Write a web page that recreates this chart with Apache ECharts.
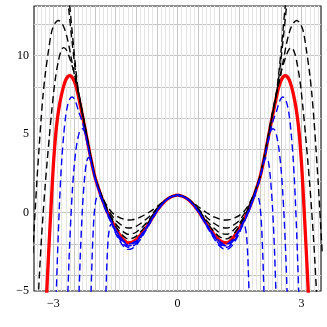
<!DOCTYPE html>
<html lang="en">
<head>
<meta charset="utf-8">
<title>Approximations</title>
<script src="https://cdn.jsdelivr.net/npm/echarts@6/dist/echarts.min.js"></script>
<style>
  html, body, #main { width: 100%; height: 100%; margin: 0; background: #fff; }
</style>
</head>
<body>
<div id="main"></div>
<script>
// axis range and tick positions
const xRange = [-3.47, 3.47];
const yRange = [-5, 13.15];
const xLabelTicks = [-3, 0, 3];
const yLabelTicks = [-5, 0, 5, 10];
const xMajorGrid = [-3, -2.5, -2, -1.5, -1, -0.5, 0, 0.5, 1, 1.5, 2, 2.5, 3];
const yMajorGrid = [-4, -2, 0, 2, 4, 6, 8, 10, 12];
const xMinorGrid = [];
for (let i = -34; i <= 34; i++) xMinorGrid.push(i / 10);

// the function (thick red)
const redCurve = [
  [-3.2,-7.2],[-3.15,-4.4],[-3.1,-1.75],[-3.05,0.75],[-3.0,3.1],[-2.95,4.85],[-2.9,6.05],[-2.85,6.9],
  [-2.8,7.55],[-2.75,8.08],[-2.7,8.45],[-2.65,8.66],[-2.6,8.72],[-2.55,8.62],[-2.5,8.38],[-2.45,8.0],
  [-2.4,7.45],[-2.3,6.2],[-2.2,4.85],[-2.1,3.5],[-2.0,2.3],[-1.9,1.45],[-1.8,0.7],[-1.7,0.05],
  [-1.6,-0.5],[-1.5,-1.0],[-1.4,-1.42],[-1.3,-1.75],[-1.2,-1.93],[-1.1,-1.9],[-1.0,-1.74],[-0.9,-1.45],
  [-0.8,-1.1],[-0.7,-0.72],[-0.6,-0.3],[-0.5,0.1],[-0.4,0.45],[-0.3,0.73],[-0.2,0.93],[-0.1,1.05],[0,1.1],
  [0.1,1.05],[0.2,0.93],[0.3,0.73],[0.4,0.45],[0.5,0.1],[0.6,-0.3],[0.7,-0.72],[0.8,-1.1],
  [0.9,-1.45],[1.0,-1.74],[1.1,-1.9],[1.2,-1.93],[1.3,-1.75],[1.4,-1.42],[1.5,-1.0],[1.6,-0.5],
  [1.7,0.05],[1.8,0.7],[1.9,1.45],[2.0,2.3],[2.1,3.5],[2.2,4.85],[2.3,6.2],[2.4,7.45],
  [2.45,8.0],[2.5,8.38],[2.55,8.62],[2.6,8.72],[2.65,8.66],[2.7,8.45],[2.75,8.08],[2.8,7.55],
  [2.85,6.9],[2.9,6.05],[2.95,4.85],[3.0,3.1],[3.05,0.75],[3.1,-1.75],[3.15,-4.4],[3.2,-7.2]
];

// black dashed approximations (above the function near the minima)
const blackA = [
  [-3.5,-2.6],[-3.44,0.2],[-3.4,2.0],[-3.35,4.0],[-3.3,5.9],[-3.25,7.5],[-3.2,8.75],[-3.12,10.3],
  [-3.04,11.55],[-2.96,12.06],[-2.88,12.23],[-2.8,12.05],[-2.74,11.75],[-2.68,11.25],[-2.62,10.55],
  [-2.56,9.7],[-2.48,8.6],[-2.4,7.6],[-2.3,6.3],[-2.2,4.9],[-2.1,3.52],[-2.0,2.31],[-1.9,1.47],
  [-1.8,0.73],[-1.7,0.11],[-1.6,-0.41],[-1.5,-0.86],[-1.4,-1.23],[-1.3,-1.52],[-1.2,-1.68],[-1.1,-1.65],
  [-1.0,-1.52],[-0.9,-1.26],[-0.8,-0.96],[-0.7,-0.62],[-0.6,-0.23],[-0.5,0.14],[-0.4,0.47],[-0.3,0.74],
  [-0.2,0.93],[-0.1,1.05],[0,1.1],
  [0.1,1.05],[0.2,0.93],[0.3,0.74],[0.4,0.47],[0.5,0.14],[0.6,-0.23],[0.7,-0.62],[0.8,-0.96],
  [0.9,-1.26],[1.0,-1.52],[1.1,-1.65],[1.2,-1.68],[1.3,-1.52],[1.4,-1.23],[1.5,-0.86],[1.6,-0.41],
  [1.7,0.11],[1.8,0.73],[1.9,1.47],[2.0,2.31],[2.1,3.52],[2.2,4.9],[2.3,6.3],[2.4,7.6],[2.48,8.6],
  [2.56,9.7],[2.62,10.55],[2.68,11.25],[2.74,11.75],[2.8,12.05],[2.88,12.23],[2.96,12.06],[3.04,11.55],
  [3.12,10.3],[3.2,8.75],[3.25,7.5],[3.3,5.9],[3.35,4.0],[3.4,2.0],[3.44,0.2],[3.5,-2.6]
];
const blackB = [
  [-3.4,-7],[-3.36,-5],[-3.3,-2.1],[-3.25,-0.1],[-3.2,1.7],[-3.15,3.3],[-3.1,4.8],[-3.04,6.5],
  [-2.96,8.4],[-2.88,9.65],[-2.82,10.25],[-2.76,10.5],[-2.7,10.4],[-2.64,10.07],[-2.56,9.44],
  [-2.48,8.7],[-2.4,7.7],[-2.3,6.35],[-2.2,4.95],[-2.1,3.55],[-2.0,2.32],[-1.9,1.49],[-1.8,0.77],
  [-1.7,0.18],[-1.6,-0.3],[-1.5,-0.7],[-1.4,-1.01],[-1.3,-1.25],[-1.2,-1.39],[-1.1,-1.36],[-1.0,-1.26],
  [-0.9,-1.04],[-0.8,-0.79],[-0.7,-0.5],[-0.6,-0.15],[-0.5,0.19],[-0.4,0.5],[-0.3,0.76],[-0.2,0.94],
  [-0.1,1.05],[0,1.1],
  [0.1,1.05],[0.2,0.94],[0.3,0.76],[0.4,0.5],[0.5,0.19],[0.6,-0.15],[0.7,-0.5],[0.8,-0.79],
  [0.9,-1.04],[1.0,-1.26],[1.1,-1.36],[1.2,-1.39],[1.3,-1.25],[1.4,-1.01],[1.5,-0.7],[1.6,-0.3],
  [1.7,0.18],[1.8,0.77],[1.9,1.49],[2.0,2.32],[2.1,3.55],[2.2,4.95],[2.3,6.35],[2.4,7.7],[2.48,8.7],
  [2.56,9.44],[2.64,10.07],[2.7,10.4],[2.76,10.5],[2.82,10.25],[2.88,9.65],[2.96,8.4],[3.04,6.5],
  [3.1,4.8],[3.15,3.3],[3.2,1.7],[3.25,-0.1],[3.3,-2.1],[3.36,-5],[3.4,-7]
];
const blackC = [
  [-2.66,14.6],[-2.6,13.0],[-2.55,11.6],[-2.5,10.2],[-2.45,8.9],[-2.4,7.8],[-2.3,6.4],[-2.2,5.0],
  [-2.1,3.6],[-2.0,2.35],[-1.9,1.55],[-1.8,0.9],[-1.7,0.4],[-1.6,0.05],[-1.5,-0.18],[-1.4,-0.32],
  [-1.3,-0.43],[-1.2,-0.48],[-1.1,-0.47],[-1.0,-0.4],[-0.9,-0.3],[-0.8,-0.16],[-0.7,0.0],[-0.6,0.17],
  [-0.5,0.37],[-0.4,0.58],[-0.3,0.78],[-0.2,0.95],[-0.1,1.06],[0,1.1],
  [0.1,1.06],[0.2,0.95],[0.3,0.78],[0.4,0.58],[0.5,0.37],[0.6,0.17],[0.7,0.0],[0.8,-0.16],
  [0.9,-0.3],[1.0,-0.4],[1.1,-0.47],[1.2,-0.48],[1.3,-0.43],[1.4,-0.32],[1.5,-0.18],[1.6,0.05],
  [1.7,0.4],[1.8,0.9],[1.9,1.55],[2.0,2.35],[2.1,3.6],[2.2,5.0],[2.3,6.4],[2.4,7.8],[2.45,8.9],
  [2.5,10.2],[2.55,11.6],[2.6,13.0],[2.66,14.6]
];
const blackD = [
  [-2.68,14.4],[-2.62,12.7],[-2.55,10.9],[-2.5,9.7],[-2.45,8.6],[-2.4,7.65],[-2.3,6.3],[-2.2,4.95],
  [-2.1,3.55],[-2.0,2.33],[-1.9,1.52],[-1.8,0.83],[-1.7,0.28],[-1.6,-0.14],[-1.5,-0.48],[-1.4,-0.72],
  [-1.3,-0.9],[-1.2,-0.99],[-1.1,-0.97],[-1.0,-0.88],[-0.9,-0.72],[-0.8,-0.52],[-0.7,-0.3],[-0.6,-0.04],
  [-0.5,0.25],[-0.4,0.53],[-0.3,0.77],[-0.2,0.95],[-0.1,1.06],[0,1.1],
  [0.1,1.06],[0.2,0.95],[0.3,0.77],[0.4,0.53],[0.5,0.25],[0.6,-0.04],[0.7,-0.3],[0.8,-0.52],
  [0.9,-0.72],[1.0,-0.88],[1.1,-0.97],[1.2,-0.99],[1.3,-0.9],[1.4,-0.72],[1.5,-0.48],[1.6,-0.14],
  [1.7,0.28],[1.8,0.83],[1.9,1.52],[2.0,2.33],[2.1,3.55],[2.2,4.95],[2.3,6.3],[2.4,7.65],[2.45,8.6],
  [2.5,9.7],[2.55,10.9],[2.62,12.7],[2.68,14.4]
];

// blue dashed approximations (below the function)
const blueA = [
  [-2.96,-7.5],[-2.93,-5],[-2.9,-2.6],[-2.85,0.8],[-2.8,3.3],[-2.75,5.0],[-2.7,6.2],[-2.65,6.9],
  [-2.6,7.25],[-2.55,7.35],[-2.5,7.25],[-2.45,6.95],[-2.4,6.5],[-2.3,5.75],[-2.2,4.7],[-2.1,3.42],
  [-2.0,2.27],[-1.9,1.42],[-1.8,0.67],[-1.7,0.02],[-1.6,-0.54],[-1.5,-1.05],[-1.4,-1.48],[-1.3,-1.81],
  [-1.2,-2.0],[-1.1,-1.97],[-1.0,-1.79],[-0.9,-1.49],[-0.8,-1.13],[-0.7,-0.74],[-0.6,-0.31],[-0.5,0.1],
  [-0.4,0.45],[-0.3,0.73],[-0.2,0.93],[-0.1,1.05],[0,1.1],
  [0.1,1.05],[0.2,0.93],[0.3,0.73],[0.4,0.45],[0.5,0.1],[0.6,-0.31],[0.7,-0.74],[0.8,-1.13],
  [0.9,-1.49],[1.0,-1.79],[1.1,-1.97],[1.2,-2.0],[1.3,-1.81],[1.4,-1.48],[1.5,-1.05],[1.6,-0.54],
  [1.7,0.02],[1.8,0.67],[1.9,1.42],[2.0,2.27],[2.1,3.42],[2.2,4.7],[2.3,5.75],[2.4,6.5],[2.45,6.95],
  [2.5,7.25],[2.55,7.35],[2.6,7.25],[2.65,6.9],[2.7,6.2],[2.75,5.0],[2.8,3.3],[2.85,0.8],[2.9,-2.6],
  [2.93,-5],[2.96,-7.5]
];
const blueB = [
  [-2.68,-6.5],[-2.65,-5],[-2.62,-2.8],[-2.58,-0.4],[-2.54,1.5],[-2.5,2.9],[-2.45,4.1],[-2.4,4.85],
  [-2.35,5.25],[-2.3,5.33],[-2.25,5.15],[-2.2,4.6],[-2.1,3.38],[-2.0,2.24],[-1.9,1.4],[-1.8,0.65],
  [-1.7,-0.01],[-1.6,-0.57],[-1.5,-1.09],[-1.4,-1.53],[-1.3,-1.87],[-1.2,-2.06],[-1.1,-2.02],[-1.0,-1.84],
  [-0.9,-1.53],[-0.8,-1.16],[-0.7,-0.76],[-0.6,-0.32],[-0.5,0.09],[-0.4,0.45],[-0.3,0.73],[-0.2,0.93],
  [-0.1,1.05],[0,1.1],
  [0.1,1.05],[0.2,0.93],[0.3,0.73],[0.4,0.45],[0.5,0.09],[0.6,-0.32],[0.7,-0.76],[0.8,-1.16],
  [0.9,-1.53],[1.0,-1.84],[1.1,-2.02],[1.2,-2.06],[1.3,-1.87],[1.4,-1.53],[1.5,-1.09],[1.6,-0.57],
  [1.7,-0.01],[1.8,0.65],[1.9,1.4],[2.0,2.24],[2.1,3.38],[2.2,4.6],[2.25,5.15],[2.3,5.33],[2.35,5.25],
  [2.4,4.85],[2.45,4.1],[2.5,2.9],[2.54,1.5],[2.58,-0.4],[2.62,-2.8],[2.65,-5],[2.68,-6.5]
];
const blueC = [
  [-2.41,-6.5],[-2.38,-5],[-2.35,-2.7],[-2.3,0.2],[-2.25,2.1],[-2.2,3.2],[-2.15,3.5],[-2.1,3.3],
  [-2.05,2.8],[-2.0,2.2],[-1.9,1.37],[-1.8,0.62],[-1.7,-0.05],[-1.6,-0.62],[-1.5,-1.15],[-1.4,-1.6],
  [-1.3,-1.95],[-1.2,-2.13],[-1.1,-2.09],[-1.0,-1.91],[-0.9,-1.58],[-0.8,-1.2],[-0.7,-0.78],[-0.6,-0.34],
  [-0.5,0.08],[-0.4,0.44],[-0.3,0.73],[-0.2,0.93],[-0.1,1.05],[0,1.1],
  [0.1,1.05],[0.2,0.93],[0.3,0.73],[0.4,0.44],[0.5,0.08],[0.6,-0.34],[0.7,-0.78],[0.8,-1.2],
  [0.9,-1.58],[1.0,-1.91],[1.1,-2.09],[1.2,-2.13],[1.3,-1.95],[1.4,-1.6],[1.5,-1.15],[1.6,-0.62],
  [1.7,-0.05],[1.8,0.62],[1.9,1.37],[2.0,2.2],[2.05,2.8],[2.1,3.3],[2.15,3.5],[2.2,3.2],[2.25,2.1],
  [2.3,0.2],[2.35,-2.7],[2.38,-5],[2.41,-6.5]
];
const blueD = [
  [-2.12,-6.5],[-2.09,-5],[-2.06,-2.5],[-2.02,-0.3],[-1.98,0.7],[-1.94,1.05],[-1.9,1.1],[-1.85,0.95],
  [-1.8,0.58],[-1.7,-0.1],[-1.6,-0.68],[-1.5,-1.21],[-1.4,-1.69],[-1.3,-2.04],[-1.2,-2.22],[-1.1,-2.18],
  [-1.0,-1.99],[-0.9,-1.65],[-0.8,-1.24],[-0.7,-0.81],[-0.6,-0.36],[-0.5,0.07],[-0.4,0.44],[-0.3,0.73],
  [-0.2,0.93],[-0.1,1.05],[0,1.1],
  [0.1,1.05],[0.2,0.93],[0.3,0.73],[0.4,0.44],[0.5,0.07],[0.6,-0.36],[0.7,-0.81],[0.8,-1.24],
  [0.9,-1.65],[1.0,-1.99],[1.1,-2.18],[1.2,-2.22],[1.3,-2.04],[1.4,-1.69],[1.5,-1.21],[1.6,-0.68],
  [1.7,-0.1],[1.8,0.58],[1.85,0.95],[1.9,1.1],[1.94,1.05],[1.98,0.7],[2.02,-0.3],[2.06,-2.5],
  [2.09,-5],[2.12,-6.5]
];
const blueE = [
  [-1.76,-6.5],[-1.73,-5],[-1.7,-2.8],[-1.67,-1.5],[-1.63,-0.85],[-1.6,-0.75],[-1.55,-0.95],[-1.5,-1.3],
  [-1.4,-1.8],[-1.3,-2.17],[-1.2,-2.35],[-1.1,-2.3],[-1.0,-2.09],[-0.9,-1.73],[-0.8,-1.3],[-0.7,-0.85],
  [-0.6,-0.38],[-0.5,0.06],[-0.4,0.43],[-0.3,0.72],[-0.2,0.93],[-0.1,1.05],[0,1.1],
  [0.1,1.05],[0.2,0.93],[0.3,0.72],[0.4,0.43],[0.5,0.06],[0.6,-0.38],[0.7,-0.85],[0.8,-1.3],
  [0.9,-1.73],[1.0,-2.09],[1.1,-2.3],[1.2,-2.35],[1.3,-2.17],[1.4,-1.8],[1.5,-1.3],[1.55,-0.95],
  [1.6,-0.75],[1.63,-0.85],[1.67,-1.5],[1.7,-2.8],[1.73,-5],[1.76,-6.5]
];

const minus = v => String(v).replace('-', '\u2212');
const serif = 'Liberation Serif';

function gridAxis(values, color, extra) {
    return Object.assign({
        type: 'value',
        axisLine: { show: false },
        axisTick: { show: false, customValues: values },
        axisLabel: { show: false },
        splitLine: { show: true, lineStyle: { color: color, width: 1 } }
    }, extra);
}

function dashed(data, color) {
    return {
        type: 'line', data: data, smooth: 0.3, symbol: 'none', silent: true,
        lineStyle: { color: color, width: 1.4, type: [7, 4] }
    };
}

const chart = echarts.init(document.getElementById('main'));

chart.setOption({
    animation: false,
    backgroundColor: '#fff',
    grid: { left: 34, right: 6, top: 6, bottom: 36, show: true, borderColor: '#222', borderWidth: 1.2 },
    xAxis: [
        Object.assign({ min: xRange[0], max: xRange[1], position: 'bottom',
            axisLabel: { show: true, customValues: xLabelTicks, formatter: minus, margin: 7,
                fontFamily: serif, fontSize: 12, color: '#000' },
            axisTick: { show: false, customValues: xLabelTicks },
            axisLine: { show: false }, splitLine: { show: false } }, { type: 'value' }),
        gridAxis(xMinorGrid, '#e4e4e4', { min: xRange[0], max: xRange[1], position: 'bottom' }),
        gridAxis(xMajorGrid, '#c6c6c6', { min: xRange[0], max: xRange[1], position: 'bottom' })
    ],
    yAxis: [
        Object.assign({ min: yRange[0], max: yRange[1], position: 'left',
            axisLabel: { show: true, customValues: yLabelTicks, formatter: minus, margin: 5,
                fontFamily: serif, fontSize: 12, color: '#000' },
            axisTick: { show: false, customValues: yLabelTicks },
            axisLine: { show: false }, splitLine: { show: false } }, { type: 'value' }),
        gridAxis(yMajorGrid, '#c6c6c6', { min: yRange[0], max: yRange[1], position: 'left' })
    ],
    series: [
        { type: 'line', data: redCurve, smooth: 0.3, symbol: 'none', silent: true,
          lineStyle: { color: '#ff0000', width: 3.3 } },
        dashed(blackA, '#000'), dashed(blackB, '#000'), dashed(blackC, '#000'), dashed(blackD, '#000'),
        dashed(blueA, '#0000ff'), dashed(blueB, '#0000ff'), dashed(blueC, '#0000ff'),
        dashed(blueD, '#0000ff'), dashed(blueE, '#0000ff')
    ]
});

window.onresize = function () { chart.resize(); };
</script>
</body>
</html>
